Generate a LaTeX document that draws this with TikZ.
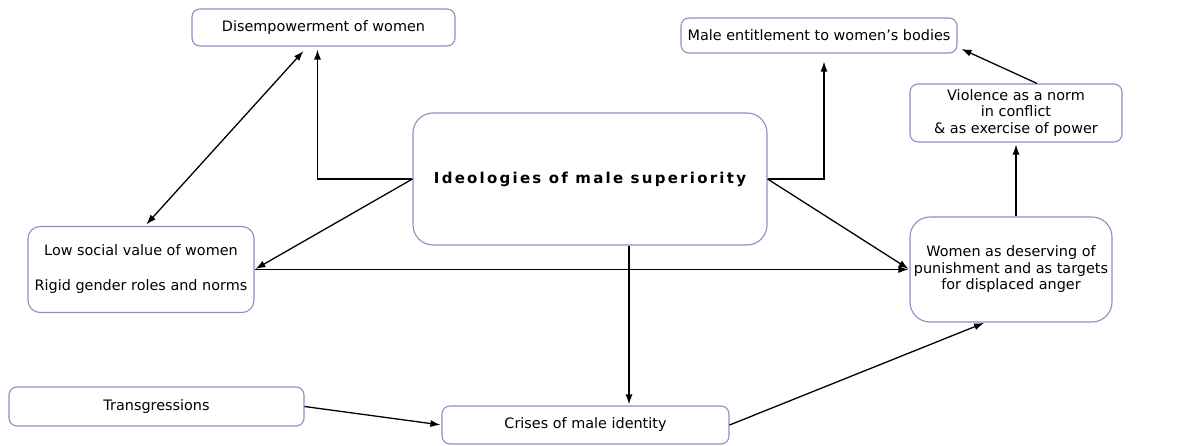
\documentclass[tikz,border=0pt]{standalone}
\usepackage{fontspec}
\setmainfont{DejaVu Sans}
\newfontfamily\titlefont{DejaVu Sans}[LetterSpace=15]
\usepackage{tikz}
\usetikzlibrary{arrows.meta}

\definecolor{boxline}{RGB}{135,145,195}
\tikzset{
  box/.style={draw=boxline, line width=1.1pt, rounded corners=8pt, align=center,
    inner sep=0pt, font=\fontsize{14.4}{16.5}\selectfont},
  bigbox/.style={box, rounded corners=20pt},
  arr/.style={-{Latex[length=10pt,width=7pt]}, line width=1.3pt, shorten >=1pt},
  dblarr/.style={{Latex[length=10pt,width=7pt]}-{Latex[length=10pt,width=7pt]}, line width=1.3pt},
}

\begin{document}
\begin{tikzpicture}[x=1pt,y=1pt,yscale=-1]
\useasboundingbox (0,0) rectangle (1204,446);

%Shape: Rounded Rect [top left]
\node[box, minimum width=263pt, minimum height=37pt] (disemp) at (323.5,27.5) {Disempowerment of women};
%Shape: Rounded Rect [top right]
\node[box, minimum width=276pt, minimum height=35pt] (entitle) at (819,35.5) {Male entitlement to women’s bodies};
%Shape: Rounded Rect [violence]
\node[box, minimum width=212pt, minimum height=58pt] (violence) at (1016,113) {Violence as a norm\\in conflict\\\& as exercise of power};
%Shape: Rounded Rect [centre]
\node[bigbox, minimum width=354pt, minimum height=132pt, font=\fontsize{15}{16.5}\titlefont\bfseries] (ideol) at (590,179) {Ideologies of male superiority};
%Shape: Rounded Rect [left]
\node[box, rounded corners=12pt, minimum width=226pt, minimum height=86pt] (low) at (141,269.5) {Low social value of women\\[18.5pt]Rigid gender roles and norms};
%Shape: Rounded Rect [right]
\node[bigbox, minimum width=202pt, minimum height=105pt] (women) at (1011,269.5) {Women as deserving of\\punishment and as targets\\for displaced anger};
%Shape: Rounded Rect [bottom left]
\node[box, minimum width=295pt, minimum height=39pt] (trans) at (156.5,406.5) {Transgressions};
%Shape: Rounded Rect [bottom]
\node[box, minimum width=287pt, minimum height=38pt] (crises) at (585.5,425) {Crises of male identity};

%Straight Lines
\draw[dblarr, shorten <=2pt, shorten >=6pt] ([xshift=4pt]low.north) -- ([xshift=-16pt]disemp.south);
\draw[arr, shorten >=3pt] (ideol.west) -| ([xshift=-6pt]disemp.south);
\draw[arr, shorten >=8pt] (ideol.east) -| ([xshift=5pt]entitle.south);
\draw[arr] (ideol.west) -- (low.east);
\draw[arr] (low.east) -- (women.west);
\draw[arr] (ideol.east) -- (women.west);
\draw[arr] ([xshift=39pt]ideol.south) -- ([xshift=39pt]ideol.south |- crises.north);
\draw[arr] (trans.east) -- (crises.west);
\draw[arr] (crises.east) -- ([xshift=-26pt]women.south);
\draw[arr, shorten >=2pt] (violence.south |- women.north) -- (violence.south);
\draw[arr] ([xshift=21pt]violence.north) -- ([xshift=3pt,yshift=-5pt]entitle.south east);

\end{tikzpicture}
\end{document}
